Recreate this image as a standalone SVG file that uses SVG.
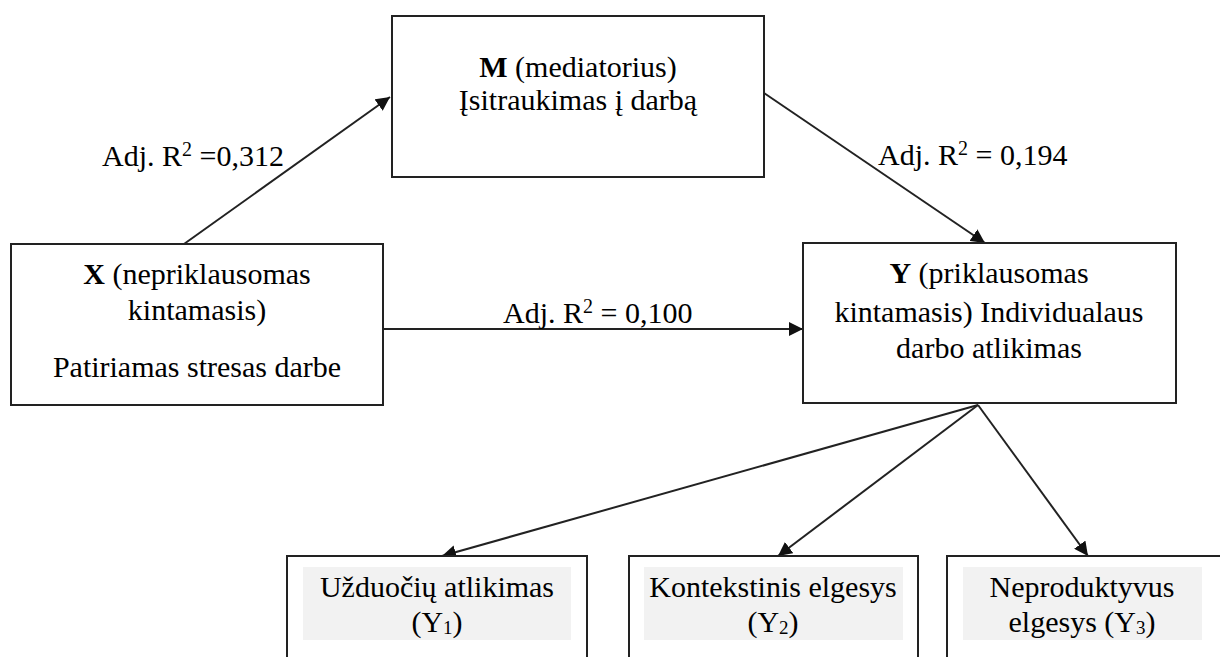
<svg xmlns="http://www.w3.org/2000/svg" width="1220" height="657" viewBox="0 0 1220 657">
<defs>
<style>
.box{fill:#fff;stroke:#222;stroke-width:2}
.shade{fill:#f2f2f2}
.t{font-family:"Liberation Serif","Times New Roman",serif;font-size:30px;fill:#000;text-anchor:middle}
.l{font-family:"Liberation Serif","Times New Roman",serif;font-size:30px;fill:#000}
.b{font-weight:bold}
.edge{stroke:#222;stroke-width:2;fill:none;marker-end:url(#ah)}
</style>
<marker id="ah" viewBox="0 0 10 10" refX="10" refY="5" markerWidth="7" markerHeight="7" markerUnits="strokeWidth" orient="auto">
<path d="M0,0 L10,5 L0,10 z" fill="#111"/>
</marker>
</defs>
<rect width="1220" height="657" fill="#fff"/>
<g id="connectors">
<line class="edge" x1="184" y1="244" x2="390" y2="97"/>
<line class="edge" x1="764" y1="93" x2="985" y2="243"/>
<line class="edge" x1="377" y1="329" x2="803" y2="329"/>
<line class="edge" x1="978" y1="405" x2="442" y2="556"/>
<line class="edge" x1="978" y1="405" x2="778" y2="556"/>
<line class="edge" x1="978" y1="405" x2="1088" y2="556"/>
<text class="l" x="102" y="166">Adj. R<tspan font-size="20" dy="-10">2</tspan><tspan dy="10"> =0,312</tspan></text>
<text class="l" x="878" y="165">Adj. R<tspan font-size="20" dy="-10">2</tspan><tspan dy="10"> = 0,194</tspan></text>
<text class="l" x="503" y="323">Adj. R<tspan font-size="20" dy="-10">2</tspan><tspan dy="10"> = 0,100</tspan></text>
</g>
<g id="M">
<rect class="box" x="392" y="16" width="372" height="161"/>
<text class="t" x="578" y="77"><tspan class="b">M</tspan> (mediatorius)</text>
<text class="t" x="578" y="110">Įsitraukimas į darbą</text>
</g>
<g id="X">
<rect class="box" x="11" y="244" width="372" height="161"/>
<text class="t" x="197" y="284"><tspan class="b">X</tspan> (nepriklausomas</text>
<text class="t" x="197" y="320">kintamasis)</text>
<text class="t" x="197" y="377">Patiriamas stresas darbe</text>
</g>
<g id="Y">
<rect class="box" x="803" y="243" width="373" height="160"/>
<text class="t" x="989" y="283"><tspan class="b">Y</tspan> (priklausomas</text>
<text class="t" x="989" y="322">kintamasis) Individualaus</text>
<text class="t" x="989" y="358">darbo atlikimas</text>
</g>
<g id="Y1">
<rect class="box" x="287" y="556" width="300" height="120"/>
<rect class="shade" x="303" y="567" width="268" height="73"/>
<text class="t" x="437" y="597">Užduočių atlikimas</text>
<text class="t" x="437" y="632">(Y<tspan font-size="19" dy="2">1</tspan><tspan dy="-2">)</tspan></text>
</g>
<g id="Y2">
<rect class="box" x="629" y="556" width="289" height="120"/>
<rect class="shade" x="644" y="567" width="259" height="73"/>
<text class="t" x="773" y="597">Kontekstinis elgesys</text>
<text class="t" x="773" y="632">(Y<tspan font-size="19" dy="2">2</tspan><tspan dy="-2">)</tspan></text>
</g>
<g id="Y3">
<rect class="box" x="947" y="556" width="290" height="120"/>
<rect class="shade" x="963" y="567" width="239" height="73"/>
<text class="t" x="1082" y="597">Neproduktyvus</text>
<text class="t" x="1082" y="632">elgesys (Y<tspan font-size="19" dy="2">3</tspan><tspan dy="-2">)</tspan></text>
</g>
</svg>
